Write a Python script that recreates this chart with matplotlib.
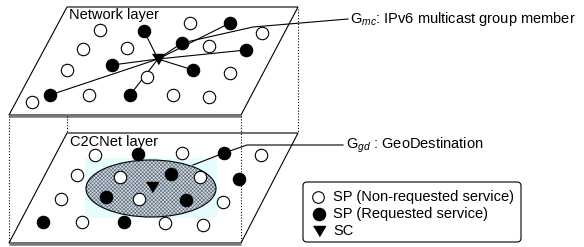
import matplotlib.pyplot as plt
from matplotlib.patches import Polygon, Ellipse, Rectangle, FancyBboxPatch

plt.rcParams['font.family'] = ['Liberation Sans', 'DejaVu Sans']
plt.rcParams['mathtext.fontset'] = 'custom'
plt.rcParams['mathtext.rm'] = 'Liberation Sans'
plt.rcParams['mathtext.it'] = 'Liberation Sans:italic'
plt.rcParams['hatch.color'] = '#5c6a78'
plt.rcParams['hatch.linewidth'] = 0.45

# planes (pixel coordinates, y down)
top_plane = [(9, 115), (241, 115), (298, 7), (67, 7)]
bot_plane = [(9, 243), (241, 243), (298, 133), (67, 133)]

# network layer nodes
top_open_x = [100, 190, 262, 83, 127, 209, 67, 147, 230, 32, 89, 173, 209]
top_open_y = [30, 23, 33, 49, 48, 46, 70, 77, 73, 102, 95, 95, 97]
top_fill_x = [144, 230, 182, 246, 112, 193, 50, 130]
top_fill_y = [31, 23, 43, 50, 65, 70, 95, 95]
top_sc = (158, 59)

# C2CNet layer nodes
bot_open_x = [95, 182, 261, 77, 120, 200, 61, 139, 223, 82, 165, 203]
bot_open_y = [155, 153, 155, 175, 177, 177, 199, 199, 202, 222, 223, 225]
bot_fill_x = [138, 224, 171, 239, 106, 186, 43, 124]
bot_fill_y = [154, 153, 174, 179, 197, 200, 222, 222]
bot_sc = (152, 187)

mc_leader = [(182, 43), (253, 27), (348, 19)]
gd_leader = [(193, 165), (224, 153), (247, 145), (343, 145)]

legend_labels = ['SP (Non-requested service)', 'SP (Requested service)', 'SC']

fig = plt.figure(figsize=(5.84, 2.47), dpi=100)
ax = fig.add_axes([0, 0, 1, 1])
ax.set_xlim(0, 584)
ax.set_ylim(247, 0)
ax.axis('off')

tri = [(-6, 5), (6, 5), (0, -5)]
node_s = 80


def draw_plane(pts):
    ax.add_patch(Polygon(pts, closed=True, facecolor='white', edgecolor='black', lw=0.8, zorder=1))
    (x0, y0), (x1, y1) = pts[0], pts[1]
    ax.plot([x0, x1], [y0 + 0.5, y1 + 0.5], color='#777777', lw=1.8, solid_capstyle='butt', zorder=1.5)


draw_plane(bot_plane)

# C2CNet geo-destination area
ax.add_patch(Rectangle((85, 158), 132, 60, facecolor='#e6fdfd', edgecolor='none', zorder=2))
ax.add_patch(Ellipse((151, 188.5), 130, 57, facecolor='#d2dce4', edgecolor='#5c6a78', lw=0,
                     hatch='xxxxxxxxx', zorder=2.2))
ax.add_patch(Ellipse((151, 188.5), 130, 57, facecolor='none', edgecolor='black', lw=0.8, zorder=2.4))

draw_plane(top_plane)

# dotted projection lines
dot = dict(color='black', lw=0.8, linestyle=(0, (1, 1.6)), zorder=2.1)
ax.plot([9, 9], [116, 243], **dot)
ax.plot([67, 67], [116, 133], **dot)
ax.plot([241, 241], [116, 243], **dot)
ax.plot([298, 298], [9, 133], **dot)

# multicast edges
for fx, fy in zip(top_fill_x, top_fill_y):
    ax.plot([top_sc[0], fx], [top_sc[1], fy], color='black', lw=0.8, zorder=3)
ax.plot([p[0] for p in mc_leader], [p[1] for p in mc_leader], color='black', lw=0.8, zorder=3)
ax.plot([p[0] for p in gd_leader], [p[1] for p in gd_leader], color='black', lw=0.8, zorder=3)

for ox, oy, fx, fy, sc in [(top_open_x, top_open_y, top_fill_x, top_fill_y, top_sc),
                           (bot_open_x, bot_open_y, bot_fill_x, bot_fill_y, bot_sc)]:
    ax.scatter(ox, oy, s=node_s, facecolor='white', edgecolor='black', linewidths=0.8, zorder=4)
    ax.scatter(fx, fy, s=node_s, facecolor='black', edgecolor='black', linewidths=0.8, zorder=4)
    ax.scatter([sc[0]], [sc[1]], s=75, marker=tri, color='black', zorder=5)

ax.text(69, 15, 'Network layer', fontsize=10.5, va='center', ha='left', zorder=6)
ax.text(70, 142, 'C2CNet layer', fontsize=10.5, va='center', ha='left', zorder=6)
ax.text(350, 19, r'G$_{\mathit{mc}}$: IPv6 multicast group member', fontsize=10.5, va='center', ha='left')
ax.text(346, 145, r'G$_{\mathit{gd}}$ : GeoDestination', fontsize=10.5, va='center', ha='left')

# legend
ax.add_patch(FancyBboxPatch((303, 182), 218, 60, boxstyle='round,pad=0,rounding_size=4',
                            facecolor='white', edgecolor='black', lw=0.8, zorder=6))
leg_y = [197, 214, 231]
ax.scatter([318], [leg_y[0]], s=70, facecolor='white', edgecolor='black', linewidths=0.8, zorder=7)
ax.scatter([319], [leg_y[1]], s=80, facecolor='black', edgecolor='black', linewidths=0.8, zorder=7)
ax.scatter([319], [leg_y[2]], s=75, marker=tri, color='black', zorder=7)
for y, lab in zip(leg_y, legend_labels):
    ax.text(333, y, lab, fontsize=10.5, va='center', ha='left', zorder=7)

fig.savefig('out.png', dpi=100)
